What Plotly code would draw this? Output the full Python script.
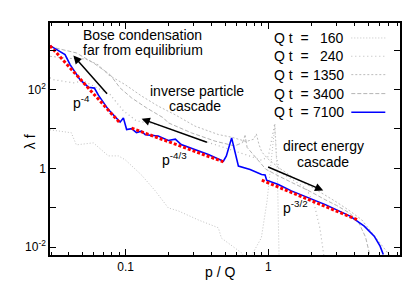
import numpy as np
import plotly.graph_objects as go


# ---------------------------
# DATA
# ---------------------------

p_160 = [0.0295, 0.0416, 0.0451, 0.0594, 0.0757, 0.089, 0.0995, 0.129, 0.161, 0.199,
         0.234, 0.323, 0.446, 0.469, 0.647, 0.70, 0.75, 0.82, 0.893, 0.98,
         1.06, 1.11, 1.16, 1.19]
f_160 = [9.5, 8.0, 3.95, 4.44, 2.07, 2.07, 1.64, 0.68, 0.27, 0.099,
         0.083, 0.049, 0.031, 0.017, 0.0072, 0.005, 0.0055, 0.01, 0.0172, 0.15,
         3.0, 12.0, 0.5, 0.005]

p_240 = [0.0295, 0.0311, 0.043, 0.0505, 0.0594, 0.0777, 0.0964, 0.119, 0.15, 0.2,
         0.3, 0.4, 0.5, 0.7, 0.9, 1.0, 1.08, 1.11, 1.14, 1.2,
         1.5, 1.85, 2.1, 2.3, 2.45]
f_240 = [200, 179, 148, 166, 124, 75, 29, 16, 14, 10.5,
         6.0, 4.2, 3.3, 2.2, 1.6, 2.0, 8.0, 14.0, 2.0, 0.8,
         0.5, 0.3, 0.12, 0.03, 0.006]

p_1350 = [0.0295, 0.0397, 0.0522, 0.0644, 0.0757, 0.099, 0.129, 0.169, 0.222, 0.306,
          0.447, 0.551, 0.70, 0.79, 0.824, 0.86, 0.9, 1.0, 1.2, 1.5,
          2.0, 2.5, 3.0, 3.74, 4.5, 5.5, 6.5, 7.13]
f_1350 = [700, 620, 600, 424, 236, 134, 69, 38, 23, 11.8,
          7.2, 6.2, 4.8, 5.5, 7.5, 4.0, 2.6, 1.7, 1.0, 0.58,
          0.34, 0.21, 0.14, 0.082, 0.05, 0.02, 0.009, 0.006]

p_3400 = [0.0295, 0.032, 0.0451, 0.0594, 0.0777, 0.0914, 0.110, 0.140, 0.184, 0.199,
          0.289, 0.424, 0.497, 0.58, 0.66, 0.687, 0.71, 0.8, 0.96, 1.2,
          1.5, 2.0, 2.5, 3.0, 3.74, 4.3, 4.8, 5.16]
f_3400 = [1250, 1143, 853, 476, 240, 110, 61.6, 34.3, 19.1, 14.3,
          7.96, 4.9, 4.26, 3.7, 4.5, 6.8, 3.4, 2.0, 0.95, 0.62,
          0.42, 0.25, 0.16, 0.115, 0.072, 0.042, 0.018, 0.006]

p_7100 = [0.0295, 0.0376, 0.0408, 0.0479, 0.0548, 0.0604, 0.0644, 0.0757, 0.0914, 0.0964,
          0.1016, 0.110, 0.119, 0.129, 0.1375, 0.169, 0.199, 0.223, 0.245, 0.323,
          0.380, 0.484, 0.508, 0.553, 0.590, 0.617, 0.745, 0.897, 0.949, 0.973,
          1.175, 1.45, 2.51, 3.74, 4.70, 5.52, 6.07, 6.39]
f_7100 = [1309, 773, 431, 179, 115, 109, 72, 31, 14.9, 19.1,
          9.7, 10.2, 8.1, 8.8, 7.1, 6.6, 5.08, 5.5, 4.02, 2.83,
          2.24, 1.52, 2.07, 5.94, 2.24, 1.14, 0.93, 0.70, 0.68, 0.50,
          0.388, 0.268, 0.120, 0.0612, 0.0341, 0.0190, 0.0106, 0.0065]

# power-law fits (end points)
fit4_p, fit4_f = [0.0295, 0.092], [1300, 13.7]
fit43_p, fit43_f = [0.110, 0.484], [10.5, 1.46]
fit32_p, fit32_f = [0.90, 4.2], [0.50, 0.0496]

legend_labels = ["160", "240", "1350", "3400", "7100"]


# ---------------------------
# FIGURE
# ---------------------------

FONT = "Liberation Sans, Arial, sans-serif"

series = [
    (p_160, f_160, dict(color="#c2c2c2", width=1, dash="1px,2px")),
    (p_240, f_240, dict(color="#b8b8b8", width=1.2, dash="1px,3px")),
    (p_1350, f_1350, dict(color="#bcbcbc", width=1, dash="2px,2px")),
    (p_3400, f_3400, dict(color="#b4b4b4", width=1, dash="4px,2px")),
    (p_7100, f_7100, dict(color="#0000ff", width=1.6)),
]

fig = go.Figure()

for p, f, line in series:
    fig.add_trace(go.Scatter(x=p, y=f, mode="lines", line=line, showlegend=False))

for p, f in [(fit4_p, fit4_f), (fit43_p, fit43_f), (fit32_p, fit32_f)]:
    fig.add_trace(go.Scatter(x=p, y=f, mode="lines",
                             line=dict(color="#ff0000", width=3, dash="3px,2px"),
                             showlegend=False))

# plot area in pixels -> paper helpers
L, R, T, B = 41.7, 391.7, 15.0, 247.3


def px(x):
    return (x - L) / (R - L)


def py(y):
    return (B - y) / (B - T)


# manual gnuplot-style legend (key on the right of the text)
rows_y = [30, 48.3, 66.7, 85.7, 104.3]
for (p, f, line), lab, yy in zip(series, legend_labels, rows_y):
    fig.add_annotation(x=px(303), y=py(yy), xref="paper", yref="paper", text="Q t  =",
                       showarrow=False, xanchor="right", yanchor="middle",
                       font=dict(size=14, color="black"))
    fig.add_annotation(x=px(338), y=py(yy), xref="paper", yref="paper", text=lab,
                       showarrow=False, xanchor="right", yanchor="middle",
                       font=dict(size=14, color="black"))
    fig.add_shape(type="line", xref="paper", yref="paper",
                  x0=px(343), x1=px(377), y0=py(yy), y1=py(yy), line=line)

# text labels
texts = [
    ("Bose condensation", 134.5, 27),
    ("far from equilibrium", 134.5, 42),
    ("inverse particle", 189, 83),
    ("cascade", 187, 98),
    ("direct energy", 314.7, 138),
    ("cascade", 314.7, 154),
    ("p<sup>-4</sup>", 73, 94),
    ("p<sup>-4/3</sup>", 166, 151),
    ("p<sup>-3/2</sup>", 287, 199),
]
for t, x, y in texts:
    fig.add_annotation(x=px(x), y=py(y), xref="paper", yref="paper", text=t,
                       showarrow=False, xanchor="center", yanchor="middle",
                       font=dict(size=14, color="black"))

# arrows (log coordinates)
arrows = [
    ((-1.3665, 2.863), (-1.121, 1.858)),
    ((-0.888, 1.256), (-0.420, 0.647)),
    ((0.385, -0.563), (-0.012, 0.051)),
]
for (hx, hy), (tx, ty) in arrows:
    fig.add_annotation(x=hx, y=hy, ax=tx, ay=ty, xref="x", yref="y", axref="x", ayref="y",
                       text="", showarrow=True, arrowhead=2, arrowsize=1.1,
                       arrowwidth=1.5, arrowcolor="black")

# axis titles
fig.add_annotation(x=px(12), y=py(134), xref="paper", yref="paper", text="λ f",
                   textangle=-90, showarrow=False, font=dict(size=14, color="black"))
fig.add_annotation(x=px(212), y=py(274), xref="paper", yref="paper", text="p / Q",
                   showarrow=False, font=dict(size=14, color="black"))

x_minor = [0.03, 0.04, 0.05, 0.06, 0.07, 0.08, 0.09,
           0.2, 0.3, 0.4, 0.5, 0.6, 0.7, 0.8, 0.9,
           2, 3, 4, 5, 6, 7, 8]

fig.update_xaxes(
    type="log", range=[np.log10(0.0295), np.log10(8.37)],
    tickvals=[0.1, 1], ticktext=["0.1", "1"],
    ticks="inside", ticklen=6, tickwidth=1, tickcolor="black",
    minor=dict(tickvals=x_minor, ticks="inside", ticklen=3, tickcolor="black"),
    showline=True, linecolor="black", linewidth=1.5, mirror="allticks",
    showgrid=False, zeroline=False,
    tickfont=dict(size=12, color="black"),
)
fig.update_yaxes(
    type="log", range=[-2.20, 3.69],
    tickvals=[0.01, 0.1, 1, 10, 100, 1000],
    ticktext=["10<sup>-2</sup>", "", "1", "", "10<sup>2</sup>", ""],
    ticks="inside", ticklen=6, tickwidth=1, tickcolor="black",
    showline=True, linecolor="black", linewidth=1.5, mirror="allticks",
    showgrid=False, zeroline=False,
    tickfont=dict(size=12, color="black"),
)

fig.update_layout(
    width=415, height=291,
    margin=dict(l=42, r=23, t=15, b=44),
    plot_bgcolor="white", paper_bgcolor="white",
    font=dict(family=FONT, color="black"),
    showlegend=False,
)

fig.write_html("out.html")
